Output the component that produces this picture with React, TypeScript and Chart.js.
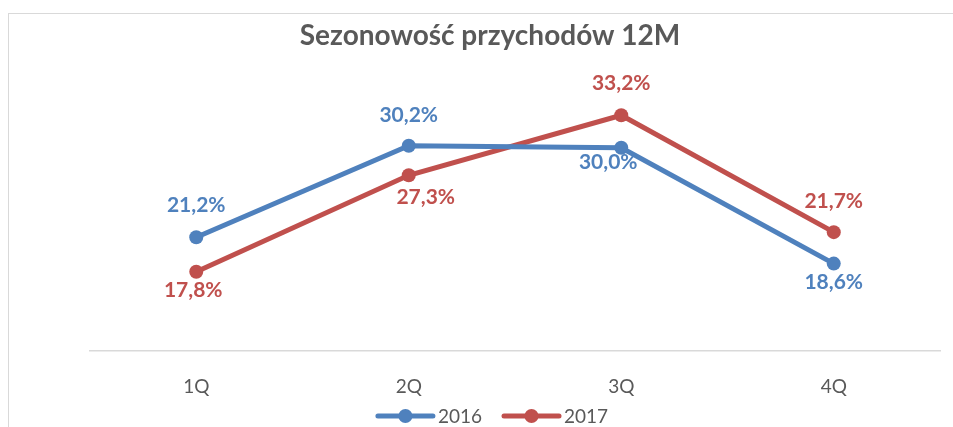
import React, { useEffect, useRef } from "react";
import { Chart, registerables } from "chart.js";

Chart.register(...registerables);

const TITLE = "Sezonowość przychodów 12M";
const CATEGORIES = ["1Q", "2Q", "3Q", "4Q"];
const SERIES_NAMES = ["2016", "2017"];
const VALUES_2016 = [21.2, 30.2, 30.0, 18.6];
const VALUES_2017 = [17.8, 27.3, 33.2, 21.7];
const COLORS = ["#4F81BD", "#C0504D"];
// label offsets (dx, dy) in px relative to each point
const LABEL_OFFSETS_2016 = [[0, -32], [0, -31], [-13, 14], [0, 19]];
const LABEL_OFFSETS_2017 = [[-3, 18], [17, 22], [0, -32], [0, -31]];
const FONT = "Lato, 'Open Sans', sans-serif";
const TEXT_GRAY = "#595959";

const fmt = (v: number) => v.toFixed(1).replace(".", ",") + "%";

const overlayPlugin = {
  id: "overlay",
  afterDatasetsDraw(chart: any) {
    const ctx = chart.ctx;
    ctx.save();
    // data labels
    const offsets = [LABEL_OFFSETS_2016, LABEL_OFFSETS_2017];
    chart.data.datasets.forEach((ds: any, di: number) => {
      const meta = chart.getDatasetMeta(di);
      meta.data.forEach((pt: any, i: number) => {
        const [dx, dy] = offsets[di][i];
        ctx.font = `bold 21px ${FONT}`;
        ctx.fillStyle = COLORS[di];
        ctx.textAlign = "center";
        ctx.textBaseline = "middle";
        ctx.fillText(fmt(ds.data[i]), pt.x + dx, pt.y + dy);
      });
    });
    // title
    ctx.font = `bold 28px ${FONT}`;
    ctx.fillStyle = TEXT_GRAY;
    ctx.textAlign = "center";
    ctx.textBaseline = "middle";
    ctx.fillText(TITLE, 481, 22);
    // legend
    ctx.font = `19px ${FONT}`;
    const lineLen = 55;
    const gapText = 5;
    const gapItems = 22;
    const widths = SERIES_NAMES.map((n) => ctx.measureText(n).width);
    const total = widths.reduce((a, w) => a + lineLen + gapText + w, 0) + gapItems;
    let x = 484 - total / 2;
    const y = 402;
    SERIES_NAMES.forEach((name, i) => {
      ctx.strokeStyle = COLORS[i];
      ctx.lineWidth = 5;
      ctx.lineCap = "round";
      ctx.beginPath();
      ctx.moveTo(x, y);
      ctx.lineTo(x + lineLen, y);
      ctx.stroke();
      ctx.fillStyle = COLORS[i];
      ctx.beginPath();
      ctx.arc(x + lineLen / 2, y, 7, 0, Math.PI * 2);
      ctx.fill();
      ctx.fillStyle = TEXT_GRAY;
      ctx.textAlign = "left";
      ctx.textBaseline = "middle";
      ctx.fillText(name, x + lineLen + gapText, y + 1);
      x += lineLen + gapText + widths[i] + gapItems;
    });
    ctx.restore();
  },
};

export default function App() {
  const ref = useRef<HTMLCanvasElement | null>(null);
  useEffect(() => {
    if (!ref.current) return;
    document.body.style.overflow = "hidden";
    const chart = new Chart(ref.current, {
      type: "line",
      data: {
        labels: CATEGORIES,
        datasets: [
          {
            label: SERIES_NAMES[0],
            data: VALUES_2016,
            borderColor: COLORS[0],
            backgroundColor: COLORS[0],
            borderWidth: 5,
            pointRadius: 7,
            pointHoverRadius: 7,
            pointBorderWidth: 0,
            tension: 0,
          },
          {
            label: SERIES_NAMES[1],
            data: VALUES_2017,
            borderColor: COLORS[1],
            backgroundColor: COLORS[1],
            borderWidth: 5,
            pointRadius: 7,
            pointHoverRadius: 7,
            pointBorderWidth: 0,
            tension: 0,
          },
        ],
      },
      options: {
        responsive: false,
        animation: false,
        events: [],
        layout: { padding: { left: 81, right: 13, top: 83, bottom: 26 } },
        plugins: {
          legend: { display: false },
          title: { display: false },
          tooltip: { enabled: false },
        },
        scales: {
          x: {
            offset: true,
            grid: { display: false },
            border: { display: true, color: "#d9d9d9", width: 1.5 },
            ticks: {
              color: TEXT_GRAY,
              font: { family: FONT, size: 19 },
              padding: 16,
            },
            afterFit: (scale: any) => {
              scale.height = 50;
            },
          },
          y: {
            display: false,
            min: 10,
            max: 35,
          },
        },
      },
      plugins: [overlayPlugin],
    });
    return () => chart.destroy();
  }, []);
  return (
    <div
      style={{
        position: "absolute",
        left: 8,
        top: 13,
        width: 945,
        height: 414,
        borderLeft: "1px solid #d9d9d9",
        borderTop: "1px solid #d9d9d9",
        boxSizing: "border-box",
        background: "#fff",
      }}
    >
      <canvas ref={ref} width={944} height={413} style={{ display: "block" }} />
    </div>
  );
}
